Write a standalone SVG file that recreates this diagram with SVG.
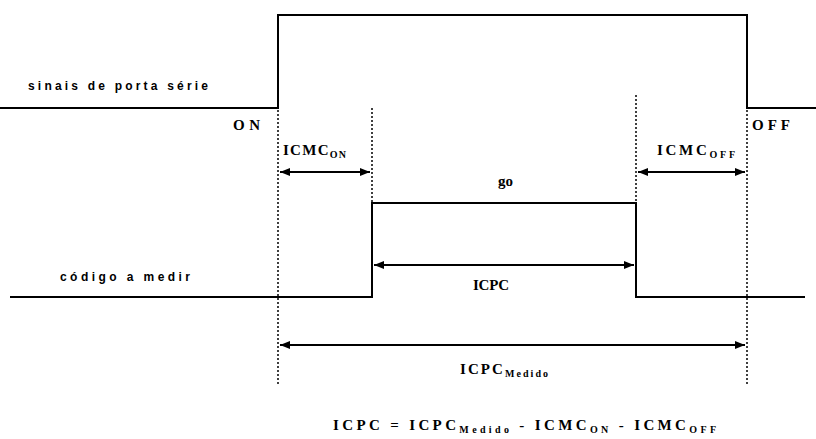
<svg xmlns="http://www.w3.org/2000/svg" width="816" height="439" viewBox="0 0 816 439">
<style>
.sig{fill:none;stroke:#000;stroke-width:2}
.dot{stroke:#000;stroke-width:1.5;stroke-dasharray:2,2}
.dim{stroke:#000;stroke-width:2;marker-start:url(#ah);marker-end:url(#ah)}
.lbl{font-family:"Liberation Sans",Arial,sans-serif;font-size:12px;font-weight:bold;fill:#000}
.t{font-family:"Liberation Serif","Times New Roman",serif;font-size:15px;font-weight:bold;fill:#000}
.sub{font-size:10px}
</style>
<defs>
<marker id="ah" viewBox="0 0 10 10" refX="10" refY="5" markerWidth="5" markerHeight="5" orient="auto-start-reverse" markerUnits="strokeWidth">
<path d="M0,1 L10,5 L0,9 Z" fill="#000"/>
</marker>
</defs>
<rect width="816" height="439" fill="#fff"/>
<g id="signals">
<g id="porta"><polyline class="sig" points="0,108 278,108 278,15 747,15 747,108 816,108"/></g>
<g id="codigo"><polyline class="sig" points="10,297 372,297 372,203 636,203 636,297 805,297"/></g>
</g>
<g id="connectors">
<line class="dot" x1="278" y1="110" x2="278" y2="385"/>
<line class="dot" x1="747" y1="110" x2="747" y2="385"/>
<line class="dot" x1="372" y1="108" x2="372" y2="202"/>
<line class="dot" x1="636" y1="95" x2="636" y2="202"/>
<line class="dim" x1="280" y1="172" x2="370" y2="172"/>
<line class="dim" x1="638" y1="172" x2="745" y2="172"/>
<line class="dim" x1="374" y1="265" x2="634" y2="265"/>
<line class="dim" x1="280" y1="345" x2="745" y2="345"/>
</g>
<g id="labels">
<text class="lbl" x="28" y="90" textLength="180" lengthAdjust="spacing">sinais de porta série</text>
<text class="lbl" x="60" y="281" textLength="130" lengthAdjust="spacing">código a medir</text>
<text class="t" x="233" y="130" textLength="27" lengthAdjust="spacing">ON</text>
<text class="t" x="752" y="130" textLength="38" lengthAdjust="spacing">OFF</text>
<text class="t" x="283" y="155" textLength="63" lengthAdjust="spacing">ICMC<tspan class="sub" dy="3">ON</tspan></text>
<text class="t" x="657" y="155" textLength="78" lengthAdjust="spacing">ICMC<tspan class="sub" dy="3">OFF</tspan></text>
<text class="t" x="498" y="186">go</text>
<text class="t" x="473" y="290" textLength="36" lengthAdjust="spacing">ICPC</text>
<text class="t" x="460" y="374" textLength="88" lengthAdjust="spacing">ICPC<tspan class="sub" dy="3">Medido</tspan></text>
<text class="t" x="333" y="430" textLength="383" lengthAdjust="spacing">ICPC = ICPC<tspan class="sub" dy="3">Medido</tspan><tspan dy="-3"> - ICMC</tspan><tspan class="sub" dy="3">ON</tspan><tspan dy="-3"> - ICMC</tspan><tspan class="sub" dy="3">OFF</tspan></text>
</g>
</svg>
